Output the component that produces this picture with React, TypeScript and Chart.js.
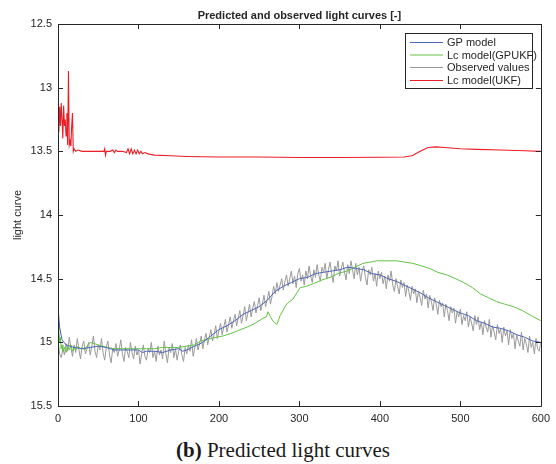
import React, { useEffect, useRef } from "react";
import { Chart, registerables } from "chart.js";

Chart.register(...registerables);

const titleText = "Predicted and observed light curves [-]";
const yAxisLabel = "light curve";
const captionBold = "(b)";
const captionRest = " Predicted light curves";
const seriesNames = ["GP model", "Lc model(GPUKF)", "Observed values", "Lc model(UKF)"];
const xTicks = [0, 100, 200, 300, 400, 500, 600];
const yTicks = [12.5, 13, 13.5, 14, 14.5, 15, 15.5];

const gpX = [0, 2, 5, 10, 20, 30, 40, 50, 60, 70, 80, 90, 100, 105, 110, 120, 130, 140, 150, 155, 160, 170, 180, 190, 200, 210, 220, 230, 240, 250, 260, 270, 280, 290, 300, 310, 320, 330, 340, 350, 360, 370, 380, 390, 400, 410, 420, 430, 440, 450, 460, 470, 480, 490, 500, 510, 520, 530, 540, 550, 560, 570, 580, 590, 600];
const gpY = [14.72, 14.88, 14.98, 15.02, 15.04, 15.05, 15.04, 15.03, 15.04, 15.06, 15.06, 15.06, 15.06, 15.08, 15.07, 15.07, 15.08, 15.06, 15.05, 15.07, 15.06, 15.03, 15.0, 14.95, 14.9, 14.87, 14.83, 14.78, 14.75, 14.72, 14.67, 14.6, 14.56, 14.53, 14.5, 14.49, 14.46, 14.45, 14.44, 14.43, 14.41, 14.42, 14.43, 14.46, 14.47, 14.5, 14.52, 14.55, 14.58, 14.61, 14.65, 14.68, 14.71, 14.74, 14.77, 14.79, 14.83, 14.85, 14.88, 14.89, 14.91, 14.94, 14.96, 14.99, 15.0];

const gpukfX = [0, 1, 2, 3, 4, 5, 6, 8, 10, 12, 14, 16, 18, 20, 22, 25, 28, 30, 33, 36, 40, 45, 50, 55, 60, 70, 80, 90, 100, 110, 120, 130, 140, 150, 160, 170, 177, 190, 205, 215, 223, 235, 245, 255, 259, 261, 264, 268, 272, 276, 284, 292, 301, 309, 317, 328, 338, 348, 359, 369, 379, 388, 396, 410, 421, 431, 441, 452, 462, 472, 483, 494, 504, 515, 525, 535, 545, 555, 566, 577, 588, 600];
const gpukfY = [14.86, 14.9, 15.0, 14.96, 15.05, 15.02, 15.07, 15.04, 15.08, 15.03, 15.06, 15.02, 15.07, 15.04, 15.06, 15.03, 15.05, 15.04, 15.06, 15.03, 15.0, 15.01, 15.02, 15.03, 15.04, 15.05, 15.05, 15.05, 15.05, 15.05, 15.05, 15.04, 15.04, 15.04, 15.03, 15.02, 14.99, 14.97, 14.95, 14.93, 14.91, 14.88, 14.85, 14.81, 14.8, 14.76, 14.8, 14.84, 14.86, 14.79, 14.7, 14.66, 14.57, 14.56, 14.54, 14.51, 14.49, 14.46, 14.44, 14.41, 14.38, 14.37, 14.36, 14.36, 14.36, 14.37, 14.38, 14.4, 14.42, 14.45, 14.47, 14.5, 14.53, 14.57, 14.62, 14.65, 14.68, 14.7, 14.72, 14.75, 14.79, 14.83];

const obsStep = 2;
const obsY = [
  14.98, 15.09, 15.12, 15.05, 15.1, 15.01, 15.07, 14.96, 15.04, 15.11,
  15.02, 15.08, 14.97, 15.06, 15.13, 15.03, 14.99, 15.09, 15.05, 15.0,
  15.1, 15.03, 14.95, 15.07, 15.12, 15.02, 15.06, 14.97, 15.08, 15.14,
  15.04, 14.99, 15.1, 15.16, 15.05, 15.08, 15.01, 15.11, 15.06, 14.98,
  15.09, 15.15, 15.04, 15.07, 15.12, 15.0, 15.08, 15.13, 15.03, 15.1,
  15.06, 15.17, 15.09, 15.02, 15.11, 15.14, 15.05, 15.08, 15.0, 15.12,
  15.07, 15.15, 15.03, 15.1, 15.06, 15.13, 14.99, 15.09, 15.16, 15.04,
  15.08, 15.01, 15.12, 15.05, 15.14, 15.07, 15.02, 15.1, 15.15, 15.04,
  15.09, 15.02, 15.07, 14.98, 15.11, 15.04, 14.97, 15.06, 15.01, 14.95,
  15.05, 14.98, 14.93, 15.02, 14.96, 14.9, 14.99, 14.94, 14.87, 14.97,
  14.91, 14.85, 14.94, 14.88, 14.82, 14.92, 14.86, 14.8, 14.89, 14.83,
  14.78, 14.87, 14.81, 14.75, 14.85, 14.79, 14.72, 14.83, 14.77, 14.7,
  14.8, 14.73, 14.68, 14.77, 14.71, 14.65, 14.75, 14.7, 14.63, 14.72,
  14.66, 14.6, 14.7, 14.64, 14.56, 14.62, 14.53, 14.6, 14.55, 14.5,
  14.59, 14.52, 14.47, 14.56, 14.5, 14.44, 14.54, 14.48, 14.57, 14.46,
  14.42, 14.52, 14.47, 14.55, 14.44, 14.5, 14.4, 14.48, 14.53, 14.43,
  14.49, 14.39, 14.47, 14.52, 14.41, 14.45, 14.38, 14.5, 14.43, 14.37,
  14.46, 14.53, 14.4, 14.44, 14.36, 14.48, 14.42, 14.37, 14.45, 14.51,
  14.39, 14.46, 14.36, 14.43, 14.5, 14.38, 14.47, 14.41, 14.52, 14.44,
  14.4, 14.49, 14.55, 14.43, 14.47, 14.41, 14.52, 14.46, 14.56, 14.44,
  14.5, 14.45, 14.54, 14.48, 14.58, 14.47, 14.52, 14.44, 14.55, 14.6,
  14.5, 14.56, 14.62, 14.51, 14.57, 14.53, 14.64, 14.55, 14.6, 14.67,
  14.56, 14.62, 14.58, 14.69, 14.6, 14.65, 14.71, 14.59, 14.66, 14.62,
  14.73, 14.63, 14.68, 14.75, 14.65, 14.7, 14.78, 14.67, 14.72, 14.69,
  14.8, 14.7, 14.75, 14.83, 14.72, 14.77, 14.73, 14.85, 14.76, 14.8,
  14.74, 14.86, 14.79, 14.83, 14.76, 14.88, 14.8, 14.85, 14.91, 14.79,
  14.86, 14.8, 14.9, 14.84, 14.94, 14.83, 14.88, 14.92, 14.82, 14.96,
  14.87, 14.92, 14.98, 14.86, 14.93, 14.89, 15.0, 14.88, 14.95, 14.91,
  15.02, 14.9, 14.97, 14.93, 15.05, 14.94, 14.99, 15.03, 14.92, 15.06,
  14.97, 15.01, 15.08, 14.95, 15.04, 15.0, 15.09, 14.97, 15.05, 15.07,
  15.0
];

const ukfX = [0, 1, 2, 3, 4, 5, 6, 7, 8, 9, 10, 11, 12, 13, 14, 15, 16, 17, 18, 19, 20, 22, 25, 30, 40, 50, 57, 58, 59, 60, 65, 68, 70, 72, 74, 80, 85, 87, 89, 91, 93, 95, 97, 99, 101, 103, 105, 108, 112, 120, 140, 160, 200, 250, 300, 350, 400, 430, 440, 450, 460, 470, 480, 500, 520, 550, 580, 600];
const ukfY = [13.2, 13.35, 13.15, 13.3, 13.12, 13.25, 13.4, 13.14, 13.3, 13.25, 13.38, 13.2, 13.45, 12.87, 13.45, 13.42, 13.46, 13.3, 13.2, 13.5, 13.48, 13.5, 13.49, 13.5, 13.5, 13.5, 13.5, 13.48, 13.53, 13.5, 13.5, 13.49, 13.51, 13.49, 13.5, 13.5, 13.51, 13.48, 13.52, 13.48, 13.52, 13.49, 13.52, 13.49, 13.52, 13.5, 13.52, 13.51, 13.52, 13.53, 13.535, 13.54, 13.545, 13.545, 13.548, 13.548, 13.547, 13.545, 13.535, 13.5, 13.47, 13.465, 13.47, 13.48, 13.485, 13.49, 13.495, 13.5];

const colors = ["#4a66b8", "#62c443", "#9a9a9a", "#ee1d25"];
const ink = "#262626";
const sans = "Liberation Sans, Arial, sans-serif";

function pairs(xs: number[], ys: number[]) {
  return ys.map((y, i) => ({ x: xs[i], y }));
}

export default function App() {
  const ref = useRef<HTMLCanvasElement | null>(null);

  useEffect(() => {
    const canvas = ref.current;
    if (!canvas) return;
    const obsX = obsY.map((_, i) => i * obsStep);

    const framePlugin = {
      id: "frame",
      afterDraw(chart: any) {
        const ctx = chart.ctx as CanvasRenderingContext2D;
        const a = chart.chartArea;
        const xs = chart.scales.x;
        const ys = chart.scales.y;
        ctx.save();
        ctx.strokeStyle = ink;
        ctx.lineWidth = 1;
        ctx.beginPath();
        ctx.rect(Math.round(a.left) + 0.5, Math.round(a.top) + 0.5, Math.round(a.right - a.left), Math.round(a.bottom - a.top));
        ctx.stroke();
        const tl = 5;
        ctx.beginPath();
        xTicks.forEach((v) => {
          const px = Math.round(xs.getPixelForValue(v)) + 0.5;
          ctx.moveTo(px, a.bottom);
          ctx.lineTo(px, a.bottom - tl);
          ctx.moveTo(px, a.top);
          ctx.lineTo(px, a.top + tl);
        });
        yTicks.forEach((v) => {
          const py = Math.round(ys.getPixelForValue(v)) + 0.5;
          ctx.moveTo(a.left, py);
          ctx.lineTo(a.left + tl, py);
          ctx.moveTo(a.right, py);
          ctx.lineTo(a.right - tl, py);
        });
        ctx.stroke();

        ctx.fillStyle = ink;
        ctx.font = "bold 11px " + sans;
        ctx.textAlign = "center";
        ctx.textBaseline = "middle";
        ctx.fillText(titleText, (a.left + a.right) / 2, 16);

        ctx.save();
        ctx.translate(18, (a.top + a.bottom) / 2);
        ctx.rotate(-Math.PI / 2);
        ctx.font = "11px " + sans;
        ctx.fillText(yAxisLabel, 0, 0);
        ctx.restore();

        const bx = 405.5, by = 33.5, bw = 127, bh = 55;
        ctx.fillStyle = "#ffffff";
        ctx.fillRect(bx, by, bw, bh);
        ctx.strokeStyle = ink;
        ctx.lineWidth = 1;
        ctx.strokeRect(bx, by, bw, bh);
        const rows = [42.5, 55, 67.5, 80.5];
        ctx.font = "11px " + sans;
        ctx.textAlign = "left";
        ctx.textBaseline = "middle";
        seriesNames.forEach((name, i) => {
          ctx.strokeStyle = colors[i];
          ctx.lineWidth = 1;
          ctx.beginPath();
          ctx.moveTo(410, rows[i]);
          ctx.lineTo(443, rows[i]);
          ctx.stroke();
          ctx.fillStyle = ink;
          ctx.fillText(name, 447, rows[i] + 0.5);
        });
        ctx.restore();
      },
    };

    const chart = new Chart(canvas, {
      type: "line",
      data: {
        datasets: [
          { label: seriesNames[0], data: pairs(gpX, gpY), borderColor: colors[0], borderWidth: 1, pointRadius: 0, tension: 0, order: 0 },
          { label: seriesNames[1], data: pairs(gpukfX, gpukfY), borderColor: colors[1], borderWidth: 1, pointRadius: 0, tension: 0, order: 1 },
          { label: seriesNames[2], data: pairs(obsX, obsY), borderColor: colors[2], borderWidth: 1, pointRadius: 0, tension: 0, order: 2 },
          { label: seriesNames[3], data: pairs(ukfX, ukfY), borderColor: colors[3], borderWidth: 1.1, pointRadius: 0, tension: 0, order: 3 },
        ],
      },
      options: {
        responsive: false,
        animation: false,
        layout: { padding: { top: 24, right: 15, bottom: 0, left: 0 } },
        plugins: { legend: { display: false }, title: { display: false }, tooltip: { enabled: false } },
        scales: {
          x: {
            type: "linear",
            min: 0,
            max: 600,
            afterBuildTicks: (s: any) => { s.ticks = xTicks.map((v) => ({ value: v })); },
            afterFit: (s: any) => { s.height = 24; },
            ticks: { color: ink, font: { size: 11, family: sans }, padding: 6, maxRotation: 0, callback: (v: any) => String(v) },
            grid: { display: false, drawTicks: false },
            border: { display: false },
          },
          y: {
            type: "linear",
            reverse: true,
            min: 12.5,
            max: 15.5,
            afterBuildTicks: (s: any) => { s.ticks = yTicks.map((v) => ({ value: v })); },
            afterFit: (s: any) => { s.width = 58; },
            ticks: { color: ink, font: { size: 11, family: sans }, padding: 6, callback: (v: any) => String(v) },
            grid: { display: false, drawTicks: false },
            border: { display: false },
          },
        },
      } as any,
      plugins: [framePlugin],
    });
    return () => chart.destroy();
  }, []);

  return (
    <div style={{ position: "absolute", left: 0, top: 0, width: 556, height: 464, background: "#fff" }}>
      <canvas ref={ref} width={556} height={430} style={{ display: "block" }} />
      <div
        style={{
          position: "absolute",
          left: 176,
          top: 440,
          whiteSpace: "nowrap",
          fontFamily: "Liberation Serif, Times New Roman, serif",
          fontSize: 21,
          lineHeight: "21px",
          color: "#1a1a1a",
        }}
      >
        <b>{captionBold}</b>
        {captionRest}
      </div>
    </div>
  );
}
